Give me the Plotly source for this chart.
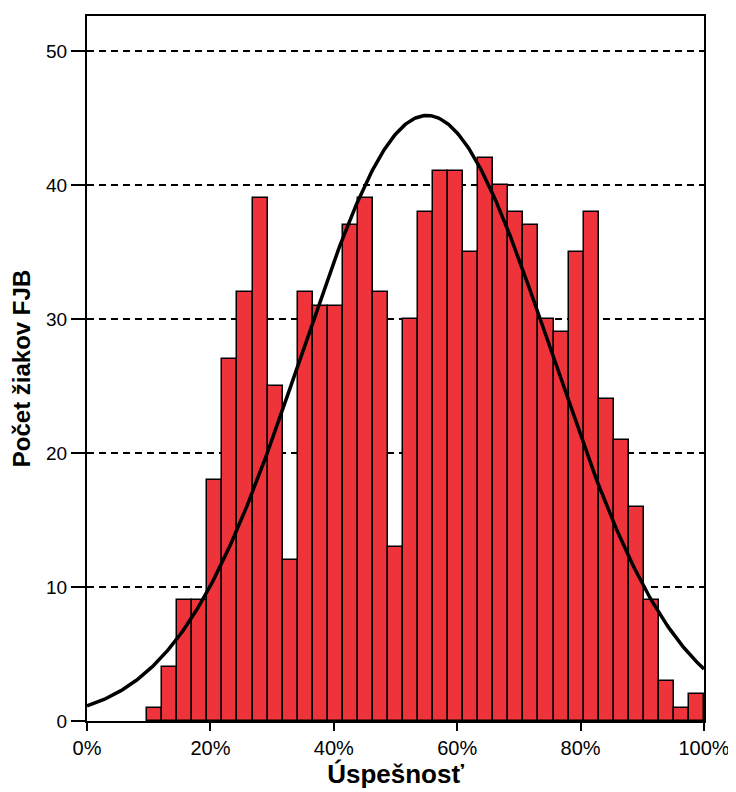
import numpy as np
import plotly.graph_objects as go

# Histogram counts (bins of width 1/41 of the scale, starting at bin index 4)
counts = [1, 4, 9, 9, 18, 27, 32, 39, 25, 12,
          32, 31, 31, 37, 39, 32, 13, 30, 38, 41,
          41, 35, 42, 40, 38, 37, 30, 29, 35, 38,
          24, 21, 16, 9, 3, 1, 2]
n_bins_total = 41
first_bin = 4
y_ticks = [0, 10, 20, 30, 40, 50]
x_ticks = [0, 20, 40, 60, 80, 100]
x_ticklabels = ["0%", "20%", "40%", "60%", "80%", "100%"]

bw = 100.0 / n_bins_total
idx = np.arange(first_bin, first_bin + len(counts))
centers = (idx + 0.5) * bw
cnt = np.array(counts, dtype=float)
N = cnt.sum()
mean = (cnt * centers).sum() / N
sd = np.sqrt((cnt * (centers - mean) ** 2).sum() / (N - 1))
xc = np.linspace(0, 100, 401)
yc = N * bw / (sd * np.sqrt(2 * np.pi)) * np.exp(-0.5 * ((xc - mean) / sd) ** 2)

fig = go.Figure()
fig.add_trace(go.Bar(
    x=centers, y=counts, width=bw,
    marker=dict(color="#EF333B", line=dict(color="black", width=1.5)),
    showlegend=False, hoverinfo="skip"))
fig.add_trace(go.Scatter(
    x=xc, y=yc, mode="lines", line=dict(color="black", width=3.5),
    showlegend=False, hoverinfo="skip"))

font_family = "Liberation Sans, Arial, sans-serif"
fig.update_layout(
    width=728, height=784,
    margin=dict(l=79, r=31, t=6, b=71),
    plot_bgcolor="white", paper_bgcolor="white",
    bargap=0,
    font=dict(family=font_family, color="black"),
    xaxis=dict(
        range=[0, 100], tickvals=x_ticks, ticktext=x_ticklabels,
        showgrid=False, zeroline=False,
        showline=True, linecolor="black", linewidth=2, mirror=True,
        ticks="outside", ticklen=8, tickwidth=2, tickcolor="black",
        tickfont=dict(size=20, family=font_family),
        title=dict(text="<b>Úspešnosť</b>", font=dict(size=26, family=font_family), standoff=6),
    ),
    yaxis=dict(
        range=[0, 52.6], tickvals=y_ticks,
        showgrid=True, gridcolor="black", gridwidth=1.5, griddash="7px,5px",
        zeroline=False,
        showline=True, linecolor="black", linewidth=2, mirror=True,
        ticks="outside", ticklen=14, tickwidth=2, tickcolor="black",
        tickfont=dict(size=19, family=font_family),
        title=dict(text="<b>Počet žiakov FJB</b>", font=dict(size=24, family=font_family), standoff=10),
    ),
)
fig.write_html("out.html")
